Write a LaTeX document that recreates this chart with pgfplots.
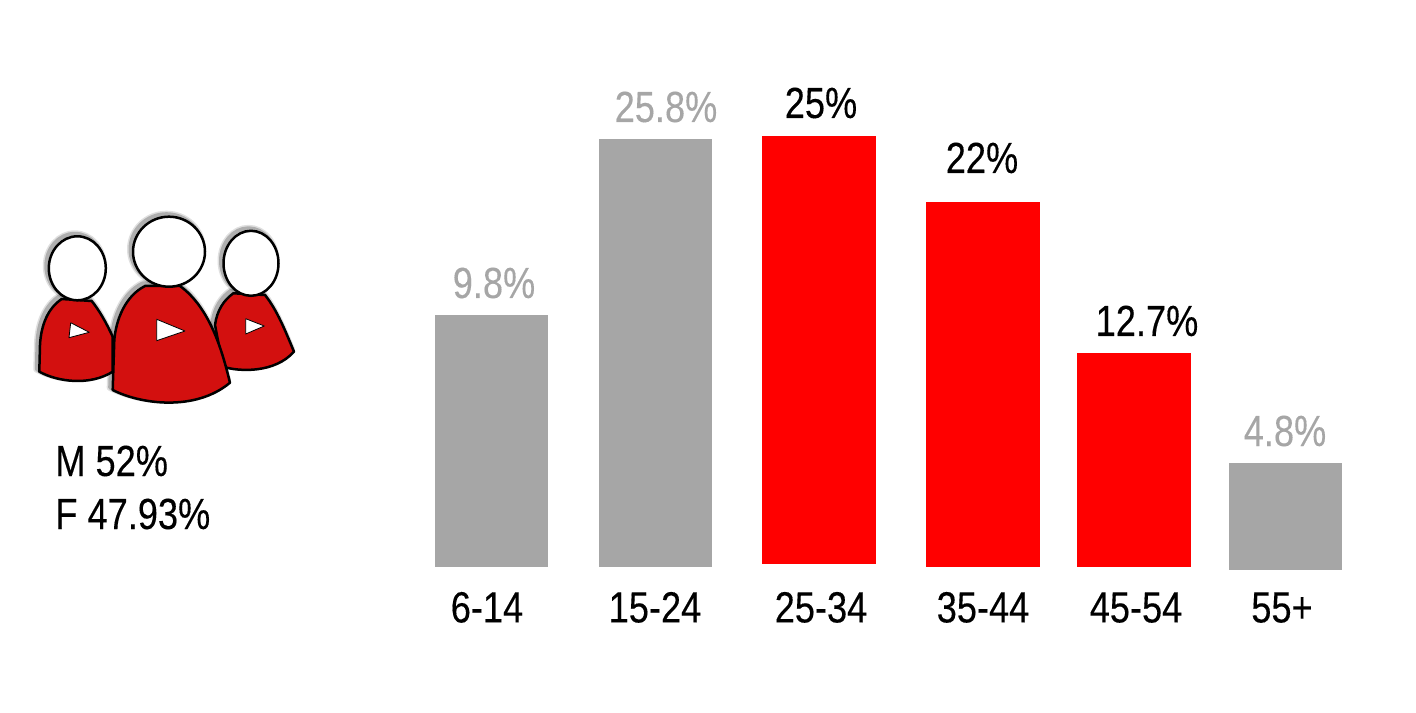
\documentclass[border=0pt]{standalone}
\usepackage{fontspec}
\setmainfont{Liberation Sans}[FakeStretch=0.83, FakeBold=0.25]
\usepackage{pgfplots}
\pgfplotsset{compat=1.18}
\definecolor{bargray}{HTML}{A6A6A6}
\definecolor{barred}{HTML}{FF0000}
\definecolor{iconred}{HTML}{D3100F}
\begin{document}
\begin{tikzpicture}
\useasboundingbox (0,-72.5pt) rectangle (708pt,283.5pt);
\begin{axis}[
  at={(0,0)}, anchor=south west,
  scale only axis, width=708pt, height=283.5pt,
  xmin=0, xmax=1416, ymin=0, ymax=567,
  clip=false,
  axis line style={draw=none},
  tick style={draw=none},
  major tick length=0pt,
  ytick=\empty,
  xtick={487,655,821,983,1136,1282},
  xticklabels={6-14,15-24,25-34,35-44,45-54,55+},
  xticklabel style={anchor=base, yshift=-27.7pt, font=\fontsize{21.8pt}{26pt}\selectfont, inner sep=0pt},
  every axis plot/.append style={ybar, bar shift=0pt, draw=none},
]
\addplot[fill=bargray, bar width=56.5pt] coordinates {(491.5,252)};
\addplot[fill=bargray, bar width=56.5pt] coordinates {(655.5,428)};
\addplot[fill=barred, bar width=57pt, yshift=1.5pt] coordinates {(819,428)};
\addplot[fill=barred, bar width=57pt] coordinates {(983,365)};
\addplot[fill=barred, bar width=57pt] coordinates {(1134,214)};
\addplot[fill=bargray, bar width=56.5pt, yshift=-1.5pt] coordinates {(1285.5,107)};
\tikzset{val/.style={anchor=base, inner sep=0pt, font=\fontsize{21.8pt}{26pt}\selectfont}}
\node[val, text=bargray] at (axis cs:494,269) {9.8\%};
\node[val, text=bargray] at (axis cs:666,445) {25.8\%};
\node[val, text=black] at (axis cs:821,449) {25\%};
\node[val, text=black] at (axis cs:982,394) {22\%};
\node[val, text=black] at (axis cs:1147,231) {12.7\%};
\node[val, text=bargray] at (axis cs:1285,121) {4.8\%};
\node[anchor=base west, inner sep=0pt, font=\fontsize{21.8pt}{26pt}\selectfont] at (axis cs:55,91) {M 52\%};
\node[anchor=base west, inner sep=0pt, font=\fontsize{21.8pt}{26pt}\selectfont] at (axis cs:55,38) {F 47.93\%};
\end{axis}
\begin{scope}[shift={(0,283.5pt)}, x=0.5pt, y=-0.5pt, line join=round]
\def\leftbody{(61.7,299) .. controls (48,308) and (41,325) .. (40,345) -- (39.3,371.7) .. controls (58,382) and (90,386) .. (112.7,371.7) -- (112.7,336.7) .. controls (106,322) and (99,310) .. (91.7,301) -- cycle}
\def\rightbody{(233.3,293.3) .. controls (224,300) and (217,310) .. (215,325) -- (223,366.7) .. controls (240,372) and (275,373) .. (294,351.7) .. controls (285,330) and (277,310) .. (265,295) -- cycle}
\def\midbody{(145,286) .. controls (125,296) and (116,320) .. (114.3,340) -- (112.7,390) .. controls (140,404) and (195,412) .. (230,382.7) .. controls (222,350) and (210,308) .. (180,286) -- cycle}
% soft shadows
\foreach \lw/\op in {7/0.12,4/0.22}{
 \begin{scope}[shift={(-2.5,-2.5)}, draw=black, draw opacity=\op, line width=\lw*0.5pt]
  \draw \leftbody; \draw \rightbody; \draw \midbody;
  \draw (77.3,268.3) ellipse [x radius=28.5, y radius=32];
  \draw (169,251.7) ellipse [x radius=36, y radius=35];
  \draw (251,263.3) ellipse [x radius=27.5, y radius=32.5];
 \end{scope}}
\begin{scope}[line width=1.25pt, draw=black]
\filldraw[fill=iconred] \leftbody;
\filldraw[fill=iconred] \rightbody;
\filldraw[fill=iconred] \midbody;
\filldraw[fill=white] (77.3,268.3) ellipse [x radius=28.5, y radius=32];
\filldraw[fill=white] (169,251.7) ellipse [x radius=36, y radius=35];
\filldraw[fill=white] (251,263.3) ellipse [x radius=27.5, y radius=32.5];
\end{scope}
\filldraw[fill=white, draw=black, line width=0.4pt] (70.7,322.7) -- (89.3,332.3) -- (69,337.7) -- cycle;
\filldraw[fill=white, draw=black, line width=0.4pt] (156.7,319.3) -- (185,331) -- (156.7,340.7) -- cycle;
\filldraw[fill=white, draw=black, line width=0.4pt] (245.7,318.7) -- (264.3,326) -- (245.7,334) -- cycle;
\end{scope}
\end{tikzpicture}
\end{document}
